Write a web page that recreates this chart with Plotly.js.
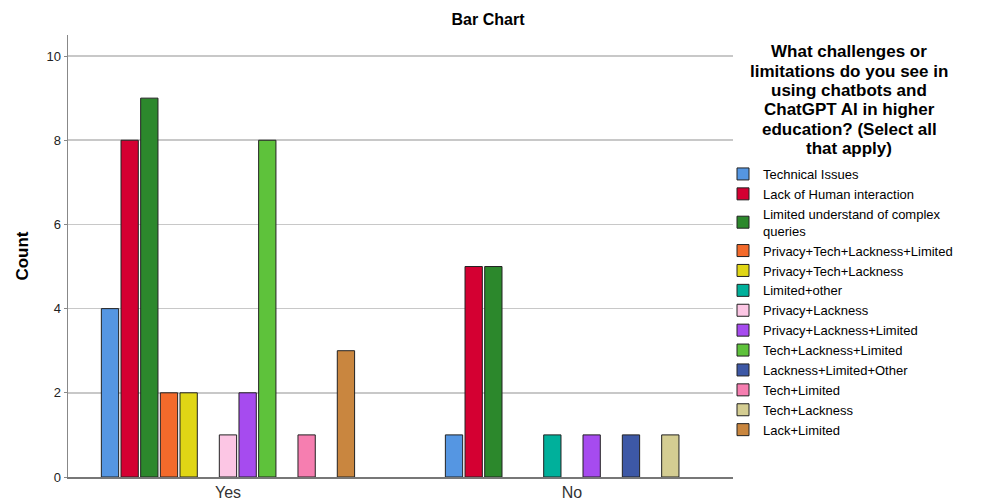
<!DOCTYPE html>
<html>
<head>
<meta charset="utf-8">
<script src="https://cdn.plot.ly/plotly-3.0.1.min.js"></script>
<style>html,body{margin:0;padding:0;background:#fff;}#chart{width:983px;height:503px;}</style>
</head>
<body>
<div id="chart"></div>
<script>
const groups = ['Yes', 'No'];
const seriesNames = [
  'Technical Issues',
  'Lack of Human interaction',
  'Limited understand of complex<br>queries',
  'Privacy+Tech+Lackness+Limited',
  'Privacy+Tech+Lackness',
  'Limited+other',
  'Privacy+Lackness',
  'Privacy+Lackness+Limited',
  'Tech+Lackness+Limited',
  'Lackness+Limited+Other',
  'Tech+Limited',
  'Tech+Lackness',
  'Lack+Limited'
];
const yesCounts = [4, 8, 9, 2, 2, 0, 1, 2, 8, 0, 1, 0, 3];
const noCounts  = [1, 5, 5, 0, 0, 1, 0, 1, 0, 1, 0, 1, 0];
const seriesColors = [
  '#5596E2', '#D40032', '#2C882C', '#F36A2B', '#E0D615', '#00B09B', '#FCC6E4',
  '#A64BEF', '#5EC23B', '#3D58A6', '#F67EB0', '#D4CD92', '#C9863F'
];
const yTicks = [0, 2, 4, 6, 8, 10];
const chartTitle = 'Bar Chart';
const yTitle = 'Count';
const legendTitleLines = [
  'What challenges or',
  'limitations do you see in',
  'using chatbots and',
  'ChatGPT AI in higher',
  'education? (Select all',
  'that apply)'
];

const FONT = 'Liberation Sans, Arial, sans-serif';

const traces = seriesNames.map((name, i) => ({
  type: 'bar',
  name: name,
  x: groups,
  y: [yesCounts[i], noCounts[i]].map(v => v === 0 ? null : v),
  marker: { color: seriesColors[i], line: { color: '#222', width: 1 } },
  hoverinfo: 'x+y+name'
}));

const annotations = legendTitleLines.map((t, k) => ({
  xref: 'paper', yref: 'paper',
  x: (849 - 68) / 665, y: 1 - (52 + k * 19.3 - 35) / 442,
  xanchor: 'center', yanchor: 'middle',
  text: '<b>' + t + '</b>', showarrow: false,
  font: { family: FONT, size: 17, color: '#000' }
}));

const layout = {
  width: 983, height: 503,
  margin: { l: 68, r: 250, t: 35, b: 26 },
  paper_bgcolor: '#fff', plot_bgcolor: '#fff',
  title: { text: '<b>' + chartTitle + '</b>', x: 488 / 983, xanchor: 'center', y: 1 - 19 / 503, yanchor: 'middle',
           font: { family: FONT, size: 16, color: '#000' } },
  barmode: 'group',
  bargap: 0.257,
  bargroupgap: 0.12,
  xaxis: {
    type: 'category',
    range: [-0.465, 1.468],
    showgrid: false, zeroline: false,
    showline: true, linecolor: '#777', linewidth: 1.5,
    ticks: '', tickfont: { family: FONT, size: 16, color: '#333' },
    fixedrange: true
  },
  yaxis: {
    range: [0, 10.5],
    tickvals: yTicks, ticktext: yTicks.map(String),
    showgrid: true, gridcolor: '#C8C8C8', gridwidth: 1.5,
    zeroline: false,
    showline: true, linecolor: '#888', linewidth: 1.5,
    ticks: 'outside', ticklen: 3, tickcolor: '#888',
    tickfont: { family: FONT, size: 13, color: '#222' },
    title: { text: '<b>' + yTitle + '</b>', font: { family: FONT, size: 17, color: '#000' }, standoff: 13 },
    fixedrange: true
  },
  legend: {
    x: (723 - 68) / 665, xanchor: 'left',
    y: 1 - (159 - 35) / 442, yanchor: 'top',
    font: { family: FONT, size: 13, color: '#000' },
    bgcolor: 'rgba(0,0,0,0)',
    itemwidth: 30,
    tracegroupgap: 0,
    traceorder: 'normal'
  },
  annotations: annotations,
  showlegend: true
};

Plotly.newPlot('chart', traces, layout, { displayModeBar: false, staticPlot: true });
</script>
</body>
</html>
